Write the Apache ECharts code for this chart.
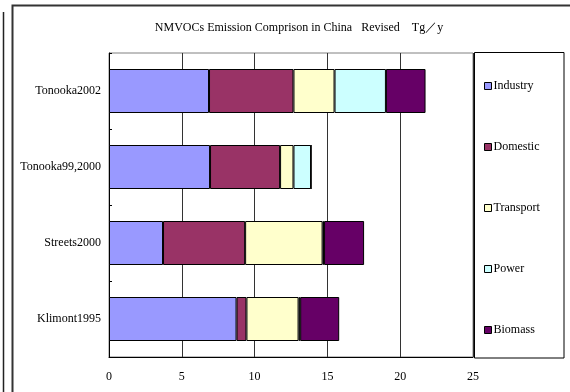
<!DOCTYPE html>
<html>
<head>
<meta charset="utf-8">
<script src="https://cdn.jsdelivr.net/npm/echarts@6/dist/echarts.min.js"></script>
<style>
  html, body { margin: 0; padding: 0; background: #fff; }
  #chart { width: 570px; height: 392px; }
</style>
</head>
<body>
<div id="chart"></div>
<script>
// Emission estimates per study (Tg/y), listed top to bottom
const studies = ['Tonooka2002', 'Tonooka99,2000', 'Streets2000', 'Klimont1995'];
const industry  = [6.87, 6.94, 3.71, 8.76];
const domestic  = [5.80, 4.81, 5.64, 0.68];
const transport = [2.82, 0.92, 5.32, 3.58];
const power     = [3.53, 1.21, 0.10, 0.11];
const biomass   = [2.72, 0,    2.75, 2.68];
const xTicks = { min: 0, max: 25, step: 5 };

const sectors = [
  { name: 'Industry',  data: industry,  color: '#9999FF' },
  { name: 'Domestic',  data: domestic,  color: '#993366' },
  { name: 'Transport', data: transport, color: '#FFFFCC' },
  { name: 'Power',     data: power,     color: '#CCFFFF' },
  { name: 'Biomass',   data: biomass,   color: '#660066' }
];

const serif = '"Liberation Serif", "DejaVu Serif", serif';
const chart = echarts.init(document.getElementById('chart'), null, { renderer: 'canvas' });

chart.setOption({
  animation: false,
  backgroundColor: '#fff',
  title: {
    text: 'NMVOCs Emission Comprison in China   Revised    Tg／y',
    left: 294,
    textAlign: 'center',
    top: 17,
    textStyle: { fontFamily: serif, fontSize: 12, fontWeight: 'normal', color: '#000' }
  },
  legend: {
    orient: 'vertical',
    left: 479,
    top: 75,
    itemWidth: 7,
    itemHeight: 7,
    itemGap: 49,
    icon: 'rect',
    itemStyle: { borderColor: '#000', borderWidth: 1 },
    textStyle: { fontFamily: serif, fontSize: 12, color: '#000', padding: [0, 0, 0, -3] },
    data: sectors.map(s => s.name)
  },
  grid: {
    left: 109, top: 53, right: 97, bottom: 35,
    show: true, borderColor: '#808080', borderWidth: 1, backgroundColor: '#fff'
  },
  xAxis: {
    type: 'value',
    min: xTicks.min, max: xTicks.max, interval: xTicks.step,
    axisLine: { show: true, lineStyle: { color: '#000', width: 1 } },
    axisTick: { show: false },
    splitLine: { show: true, lineStyle: { color: '#333', width: 1 } },
    axisLabel: { fontFamily: serif, fontSize: 12, color: '#000', margin: 14 }
  },
  yAxis: {
    type: 'category',
    inverse: true,
    data: studies,
    axisLine: { show: true, lineStyle: { color: '#000', width: 1 } },
    axisTick: { show: true, inside: true, length: 3, lineStyle: { color: '#000' } },
    axisLabel: { fontFamily: serif, fontSize: 12, color: '#000', margin: 8 }
  },
  series: sectors.map(s => ({
    name: s.name,
    type: 'bar',
    stack: 'total',
    barWidth: 44,
    data: s.data,
    itemStyle: { color: s.color, borderColor: '#000', borderWidth: 1 }
  })),
  graphic: [
    // legend frame
    { type: 'rect', shape: { x: 474.5, y: 52.5, width: 89.5, height: 305.5 },
      style: { fill: 'none', stroke: '#000', lineWidth: 1 }, z: 0 },
    // outer chart frame
    { type: 'polyline', shape: { points: [[12.5, 392], [12.5, 5.5], [570, 5.5]] },
      style: { fill: 'none', stroke: '#333', lineWidth: 2 } },
    { type: 'line', shape: { x1: 3.5, y1: 12, x2: 3.5, y2: 392 },
      style: { stroke: '#222', lineWidth: 1.5 } }
  ]
});
</script>
</body>
</html>
